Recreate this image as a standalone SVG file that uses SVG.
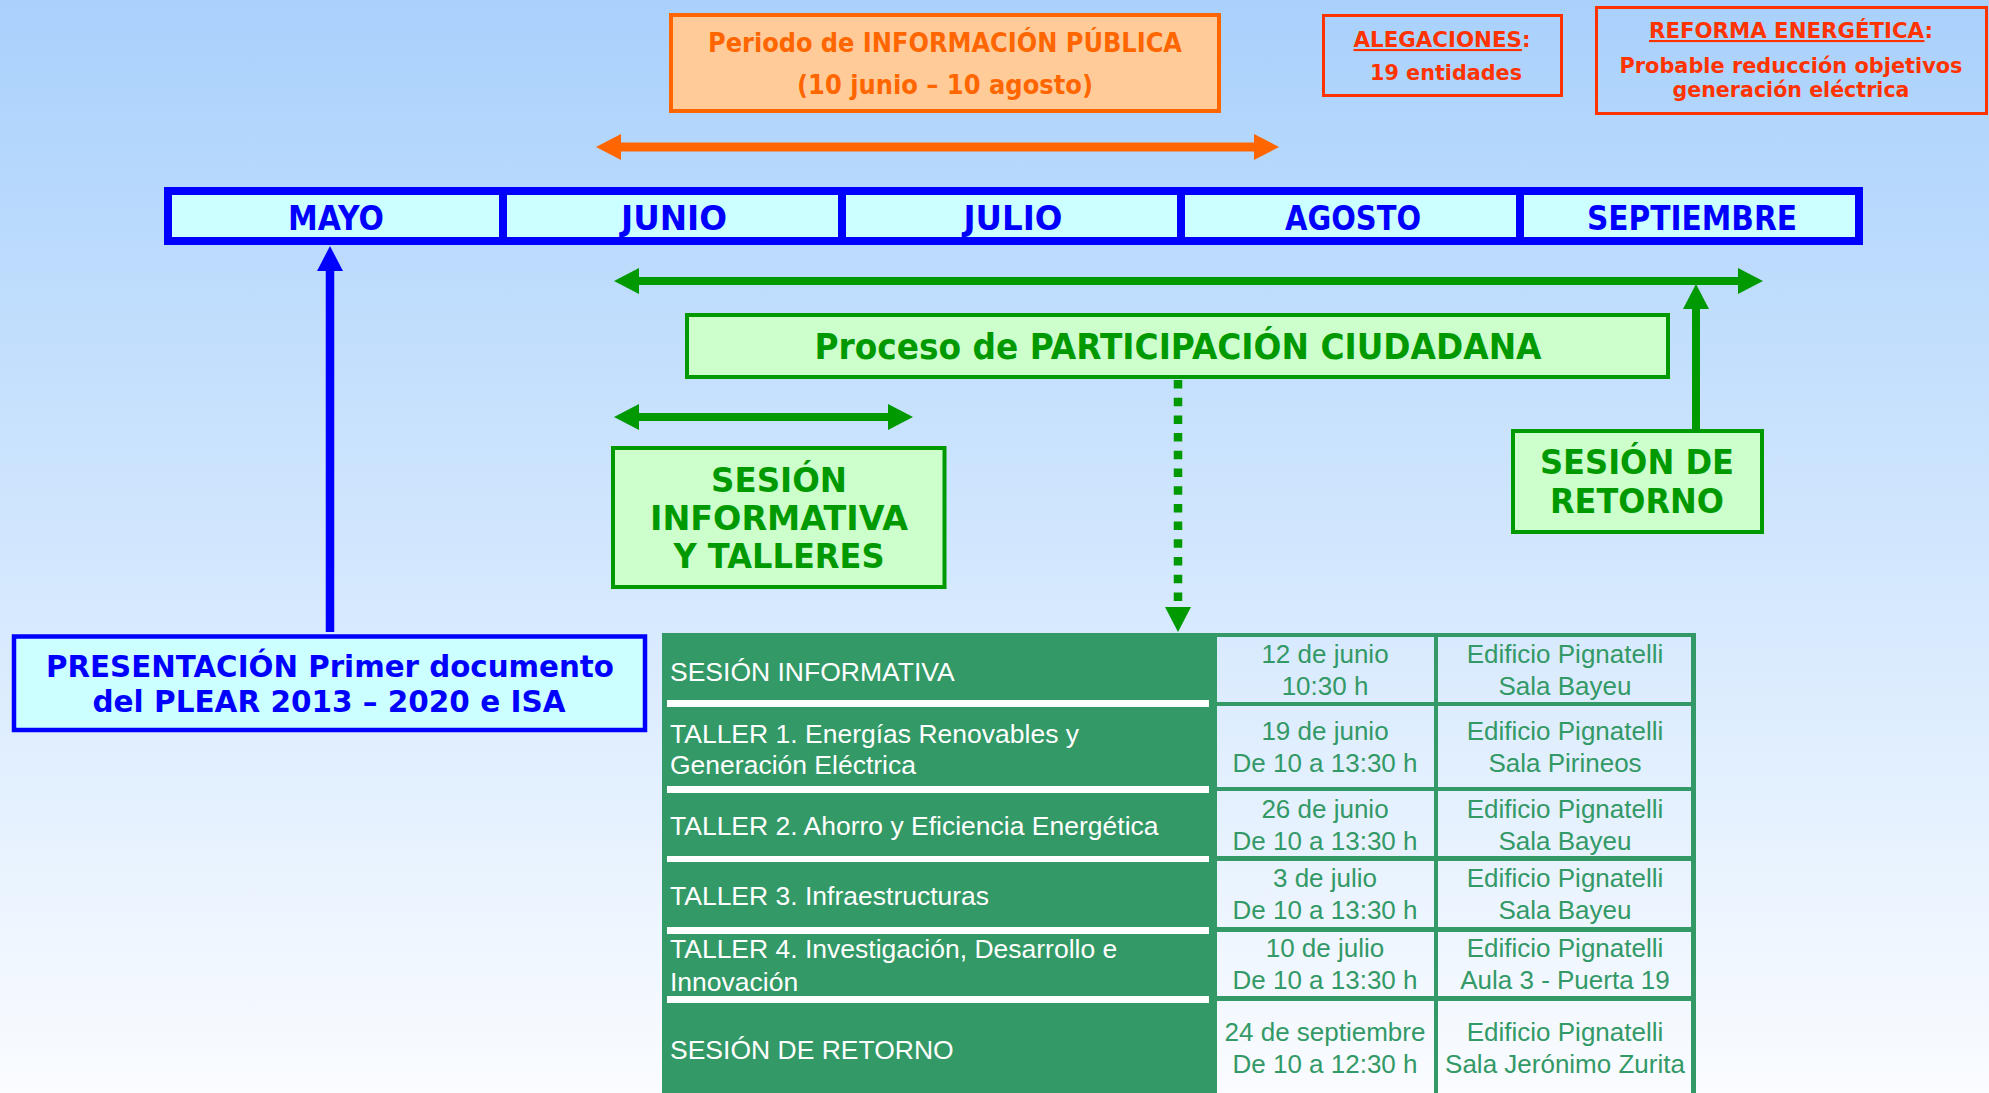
<svg xmlns="http://www.w3.org/2000/svg" width="1989" height="1093" viewBox="0 0 1989 1093">
<defs>
<linearGradient id="bg" gradientUnits="userSpaceOnUse" x1="0" y1="0" x2="0" y2="1093">
<stop offset="0" stop-color="#a9d1fc"/>
<stop offset="1" stop-color="#fafcff"/>
</linearGradient>
<marker id="hOrange" viewBox="0 0 25 26" markerWidth="25" markerHeight="26" markerUnits="userSpaceOnUse" refX="0" refY="13" orient="auto-start-reverse"><path d="M0,0 L25,13 L0,26 Z" fill="#ff6600"/></marker>
<marker id="hGreen" viewBox="0 0 25 26" markerWidth="25" markerHeight="26" markerUnits="userSpaceOnUse" refX="0" refY="13" orient="auto-start-reverse"><path d="M0,0 L25,13 L0,26 Z" fill="#009900"/></marker>
<marker id="hBlue" viewBox="0 0 25 26" markerWidth="25" markerHeight="26" markerUnits="userSpaceOnUse" refX="0" refY="13" orient="auto-start-reverse"><path d="M0,0 L25,13 L0,26 Z" fill="#0000ff"/></marker>
<style>
.hb{font-family:"DejaVu Sans","Liberation Sans",sans-serif;font-weight:bold;text-anchor:middle}
.or{fill:#ff6600}
.rd{fill:#ff3300}
.bl{fill:#0000ff}
.gr{fill:#009900}
.month{fill:#ccffff;stroke:#0000ff;stroke-width:8}
.gbox{fill:#ccffcc;stroke:#009900;stroke-width:4}
.td{font-family:"Liberation Sans",Arial,sans-serif;font-size:26px}
.tw{fill:#ffffff;font-size:26.5px}
.tg{fill:#339966;text-anchor:middle}
.cell{fill:url(#bg)}
.wbar{fill:#ffffff}
</style>
</defs>
<rect x="0" y="0" width="1989" height="1093" fill="url(#bg)"/>

<g id="info-publica">
<rect x="671" y="15" width="548" height="96" fill="#ffcc99" stroke="#ff6600" stroke-width="4"/>
<text class="hb or" x="945" y="52" font-size="27" textLength="474" lengthAdjust="spacingAndGlyphs">Periodo de INFORMACIÓN PÚBLICA</text>
<text class="hb or" x="945" y="94" font-size="27" textLength="296" lengthAdjust="spacingAndGlyphs">(10 junio – 10 agosto)</text>
</g>

<g id="alegaciones">
<rect x="1323.5" y="15.5" width="238" height="80" fill="none" stroke="#ff3300" stroke-width="3"/>
<text class="hb rd" x="1442" y="47" font-size="21" textLength="177" lengthAdjust="spacingAndGlyphs"><tspan text-decoration="underline">ALEGACIONES</tspan>:</text>
<text class="hb rd" x="1446" y="80" font-size="21" textLength="152" lengthAdjust="spacingAndGlyphs">19 entidades</text>
</g>

<g id="reforma">
<rect x="1596.5" y="7.5" width="390" height="106" fill="none" stroke="#ff3300" stroke-width="3"/>
<text class="hb rd" x="1791" y="38" font-size="21" textLength="284" lengthAdjust="spacingAndGlyphs"><tspan text-decoration="underline">REFORMA ENERGÉTICA</tspan>:</text>
<text class="hb rd" x="1791" y="73" font-size="21" textLength="343" lengthAdjust="spacingAndGlyphs">Probable reducción objetivos</text>
<text class="hb rd" x="1791" y="97" font-size="21" textLength="237" lengthAdjust="spacingAndGlyphs">generación eléctrica</text>
</g>

<g id="month-mayo">
<rect class="month" x="168" y="191" width="337" height="50"/>
<text class="hb bl" x="336" y="230" font-size="33" textLength="96" lengthAdjust="spacingAndGlyphs">MAYO</text>
</g>
<g id="month-junio">
<rect class="month" x="503" y="191" width="341" height="50"/>
<text class="hb bl" x="674" y="230" font-size="33" textLength="106" lengthAdjust="spacingAndGlyphs">JUNIO</text>
</g>
<g id="month-julio">
<rect class="month" x="842" y="191" width="341" height="50"/>
<text class="hb bl" x="1013" y="230" font-size="33" textLength="99" lengthAdjust="spacingAndGlyphs">JULIO</text>
</g>
<g id="month-agosto">
<rect class="month" x="1181" y="191" width="341" height="50"/>
<text class="hb bl" x="1353" y="230" font-size="33" textLength="136" lengthAdjust="spacingAndGlyphs">AGOSTO</text>
</g>
<g id="month-septiembre">
<rect class="month" x="1520" y="191" width="339" height="50"/>
<text class="hb bl" x="1692" y="230" font-size="33" textLength="210" lengthAdjust="spacingAndGlyphs">SEPTIEMBRE</text>
</g>

<g id="participacion">
<rect class="gbox" x="687" y="315" width="981" height="62"/>
<text class="hb gr" x="1178" y="359" font-size="35" textLength="727" lengthAdjust="spacingAndGlyphs">Proceso de PARTICIPACIÓN CIUDADANA</text>
</g>

<g id="sesion-informativa">
<rect class="gbox" x="613" y="448" width="331.5" height="139"/>
<text class="hb gr" x="779" y="492" font-size="34" textLength="136" lengthAdjust="spacingAndGlyphs">SESIÓN</text>
<text class="hb gr" x="779" y="530" font-size="34" textLength="258" lengthAdjust="spacingAndGlyphs">INFORMATIVA</text>
<text class="hb gr" x="779" y="568" font-size="34" textLength="211" lengthAdjust="spacingAndGlyphs">Y TALLERES</text>
</g>

<g id="sesion-retorno">
<rect class="gbox" x="1513" y="431" width="249" height="101"/>
<text class="hb gr" x="1637" y="474" font-size="34" textLength="194" lengthAdjust="spacingAndGlyphs">SESIÓN DE</text>
<text class="hb gr" x="1637" y="513" font-size="34" textLength="174" lengthAdjust="spacingAndGlyphs">RETORNO</text>
</g>

<g id="presentacion">
<rect x="14" y="636.5" width="631" height="93.5" fill="#ccffff" stroke="#0000ff" stroke-width="4.5"/>
<text class="hb bl" x="330" y="677" font-size="31" textLength="568" lengthAdjust="spacingAndGlyphs">PRESENTACIÓN Primer documento</text>
<text class="hb bl" x="329" y="712" font-size="31" textLength="473" lengthAdjust="spacingAndGlyphs">del PLEAR 2013 – 2020 e ISA</text>
</g>

<g id="tabla">
<rect x="662" y="633" width="1034" height="460" fill="#339966"/>
<rect class="wbar" x="667" y="700" width="542" height="7"/>
<rect class="wbar" x="667" y="786" width="542" height="7"/>
<rect class="wbar" x="667" y="856" width="542" height="6"/>
<rect class="wbar" x="667" y="927" width="542" height="7"/>
<rect class="wbar" x="667" y="996" width="542" height="7"/>
<rect class="cell" x="1217" y="637" width="217" height="65"/>
<rect class="cell" x="1438" y="637" width="253" height="65"/>
<rect class="cell" x="1217" y="706" width="217" height="81"/>
<rect class="cell" x="1438" y="706" width="253" height="81"/>
<rect class="cell" x="1217" y="791" width="217" height="65"/>
<rect class="cell" x="1438" y="791" width="253" height="65"/>
<rect class="cell" x="1217" y="861" width="217" height="66"/>
<rect class="cell" x="1438" y="861" width="253" height="66"/>
<rect class="cell" x="1217" y="932" width="217" height="64"/>
<rect class="cell" x="1438" y="932" width="253" height="64"/>
<rect class="cell" x="1217" y="1001" width="217" height="92"/>
<rect class="cell" x="1438" y="1001" width="253" height="92"/>
<text class="td tw" x="670" y="680.5">SESIÓN INFORMATIVA</text>
<text class="td tw" x="670" y="742.5">TALLER 1. Energías Renovables y</text>
<text class="td tw" x="670" y="773.5">Generación Eléctrica</text>
<text class="td tw" x="670" y="834.5">TALLER 2. Ahorro y Eficiencia Energética</text>
<text class="td tw" x="670" y="904.5">TALLER 3. Infraestructuras</text>
<text class="td tw" x="670" y="957.5">TALLER 4. Investigación, Desarrollo e</text>
<text class="td tw" x="670" y="990.5">Innovación</text>
<text class="td tw" x="670" y="1058.5">SESIÓN DE RETORNO</text>
<text class="td tg" x="1325" y="663">12 de junio</text>
<text class="td tg" x="1325" y="695">10:30 h</text>
<text class="td tg" x="1565" y="663">Edificio Pignatelli</text>
<text class="td tg" x="1565" y="695">Sala Bayeu</text>
<text class="td tg" x="1325" y="740">19 de junio</text>
<text class="td tg" x="1325" y="772">De 10 a 13:30 h</text>
<text class="td tg" x="1565" y="740">Edificio Pignatelli</text>
<text class="td tg" x="1565" y="772">Sala Pirineos</text>
<text class="td tg" x="1325" y="818">26 de junio</text>
<text class="td tg" x="1325" y="850">De 10 a 13:30 h</text>
<text class="td tg" x="1565" y="818">Edificio Pignatelli</text>
<text class="td tg" x="1565" y="850">Sala Bayeu</text>
<text class="td tg" x="1325" y="887">3 de julio</text>
<text class="td tg" x="1325" y="919">De 10 a 13:30 h</text>
<text class="td tg" x="1565" y="887">Edificio Pignatelli</text>
<text class="td tg" x="1565" y="919">Sala Bayeu</text>
<text class="td tg" x="1325" y="957">10 de julio</text>
<text class="td tg" x="1325" y="989">De 10 a 13:30 h</text>
<text class="td tg" x="1565" y="957">Edificio Pignatelli</text>
<text class="td tg" x="1565" y="989">Aula 3 - Puerta 19</text>
<text class="td tg" x="1325" y="1041">24 de septiembre</text>
<text class="td tg" x="1325" y="1073">De 10 a 12:30 h</text>
<text class="td tg" x="1565" y="1041">Edificio Pignatelli</text>
<text class="td tg" x="1565" y="1073">Sala Jerónimo Zurita</text>
</g>

<g id="connectors" fill="none">
<line x1="621" y1="147" x2="1254" y2="147" stroke="#ff6600" stroke-width="9" marker-start="url(#hOrange)" marker-end="url(#hOrange)"/>
<line x1="639" y1="281" x2="1738" y2="281" stroke="#009900" stroke-width="8" marker-start="url(#hGreen)" marker-end="url(#hGreen)"/>
<line x1="639" y1="417" x2="888" y2="417" stroke="#009900" stroke-width="8" marker-start="url(#hGreen)" marker-end="url(#hGreen)"/>
<line x1="330" y1="632" x2="330" y2="271" stroke="#0000ff" stroke-width="8.5" marker-end="url(#hBlue)"/>
<line x1="1696" y1="429" x2="1696" y2="309" stroke="#009900" stroke-width="8" marker-end="url(#hGreen)"/>
<line x1="1178" y1="380" x2="1178" y2="607" stroke="#009900" stroke-width="8.5" stroke-dasharray="8.5 9.2" marker-end="url(#hGreen)"/>
</g>
</svg>
